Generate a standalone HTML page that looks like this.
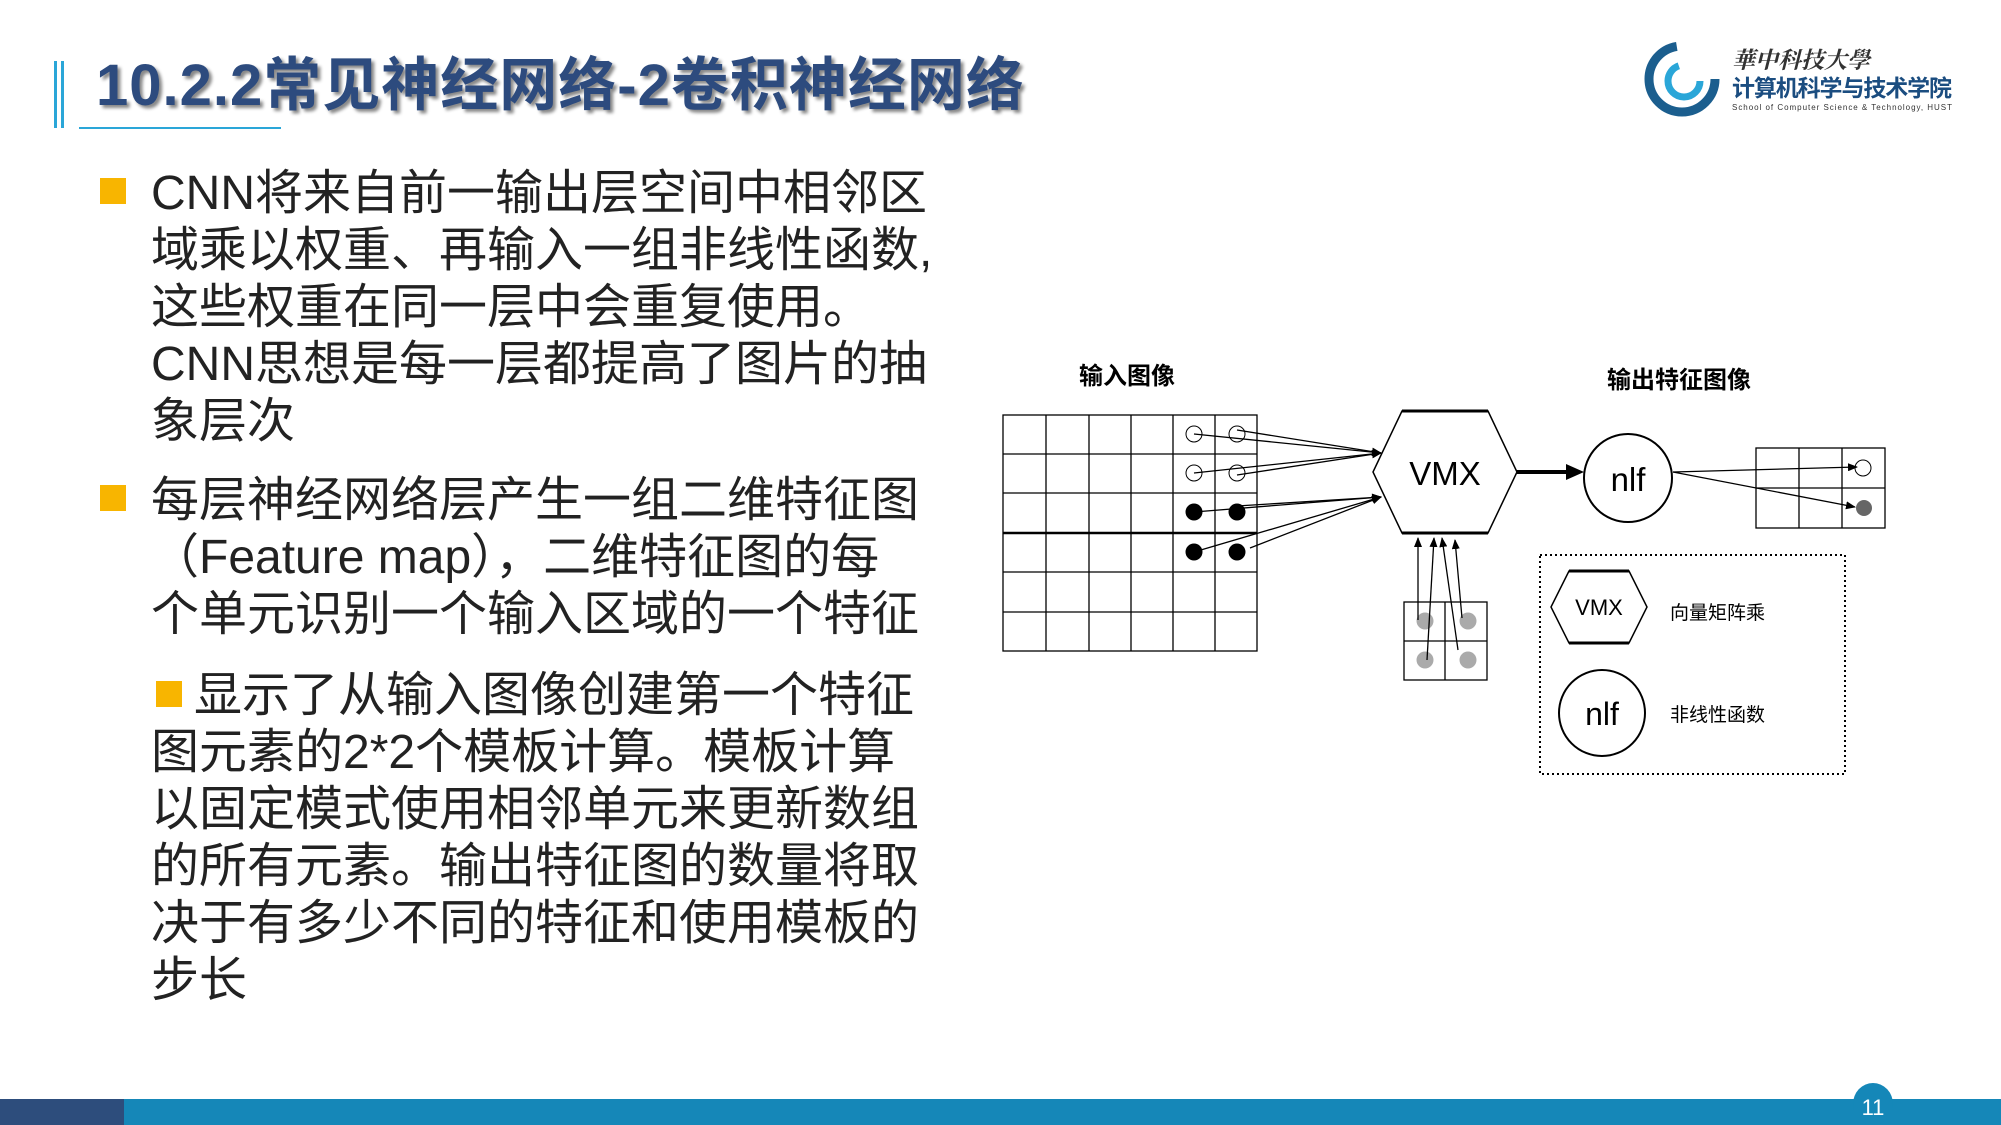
<!DOCTYPE html>
<html><head><meta charset="utf-8">
<style>
body{margin:0;width:2001px;height:1125px;position:relative;overflow:hidden;background:#fff;font-family:"Liberation Sans","Noto Sans CJK SC",sans-serif;}
.t{position:absolute;white-space:nowrap;}
.title{left:96px;top:51px;font-size:58px;font-weight:bold;color:#2d4b7e;text-shadow:3px 3px 3px #888;letter-spacing:1px;line-height:70px;}
.body{left:151px;font-size:48px;color:#222;line-height:57px;}
.sq{position:absolute;width:26px;height:26px;background:#f8b500;}
</style></head><body>
<div style="position:absolute;left:54px;top:61px;width:3px;height:67px;background:#2aa6d8"></div>
<div style="position:absolute;left:61px;top:61px;width:3px;height:67px;background:#2aa6d8"></div>
<div style="position:absolute;left:79px;top:127px;width:202px;height:2px;background:#2aa6d8"></div>
<div class="t title">10.2.2常见神经网络-2卷积神经网络</div>

<svg style="position:absolute;left:1640px;top:40px" width="330" height="85">
<circle cx="42" cy="39" r="33" fill="none" stroke="#1b5e8e" stroke-width="9" stroke-dasharray="150 60"/>
<circle cx="44" cy="41" r="16" fill="none" stroke="#2aa6d8" stroke-width="7" stroke-dasharray="70 40"/>
<text x="92" y="28" font-size="23" font-style="italic" font-weight="bold" fill="#333" font-family="'Noto Serif CJK SC',serif">華中科技大學</text>
<text x="92" y="56" font-size="23" font-weight="bold" fill="#1b4d80" font-family="'Noto Sans CJK SC',sans-serif" textLength="220">计算机科学与技术学院</text>
<text x="92" y="70" font-size="8" fill="#333" textLength="220">School of Computer Science &amp; Technology, HUST</text>
</svg>

<div class="sq" style="left:100px;top:178px"></div>
<div class="t body" style="top:165px">CNN将来自前一输出层空间中相邻区<br>域乘以权重、再输入一组非线性函数,<br>这些权重在同一层中会重复使用。<br>CNN思想是每一层都提高了图片的抽<br>象层次</div>
<div class="sq" style="left:100px;top:485px"></div>
<div class="t body" style="top:472px">每层神经网络层产生一组二维特征图<br>（Feature map），二维特征图的每<br>个单元识别一个输入区域的一个特征</div>
<div class="sq" style="left:156px;top:681px"></div>
<div class="t body" style="top:667px"><span style="padding-left:43px">显示了从输入图像创建第一个特征</span><br>图元素的2*2个模板计算。模板计算<br>以固定模式使用相邻单元来更新数组<br>的所有元素。输出特征图的数量将取<br>决于有多少不同的特征和使用模板的<br>步长</div>

<svg style="position:absolute;left:0;top:0" width="2001" height="1125">
<defs><marker id="a" markerWidth="10" markerHeight="8" refX="9" refY="4" orient="auto" markerUnits="userSpaceOnUse"><path d="M0,0L10,4L0,8z" fill="#000"/></marker></defs>
<g font-family="'Noto Sans CJK SC',sans-serif" font-weight="bold" font-size="24" text-anchor="middle">
<text x="1127" y="384">输入图像</text><text x="1679" y="388">输出特征图像</text></g>
<g stroke="#000" stroke-width="1.3" fill="none">
<rect x="1003" y="415" width="254" height="236"/>
<path d="M1046 415V651M1089 415V651M1131 415V651M1173 415V651M1215 415V651M1003 454H1257M1003 493H1257M1003 572H1257M1003 612H1257"/>
<path d="M1003 533H1257" stroke-width="2.5"/>
<rect x="1756" y="448" width="129" height="80"/><path d="M1799 448V528M1842 448V528M1756 488H1885"/>
<rect x="1404" y="602" width="83" height="78"/><path d="M1445 602V680M1404 641H1487"/>
</g>
<g stroke="#000" stroke-width="1" fill="#fff">
<circle cx="1194" cy="434" r="8"/><circle cx="1237" cy="434" r="8"/><circle cx="1194" cy="473" r="8"/><circle cx="1237" cy="473" r="8"/>
<circle cx="1863" cy="468" r="8"/>
</g>
<g fill="#000"><circle cx="1194" cy="512" r="8.5"/><circle cx="1237" cy="512" r="8.5"/><circle cx="1194" cy="552" r="8.5"/><circle cx="1237" cy="552" r="8.5"/></g>
<circle cx="1864" cy="508" r="8" fill="#666"/>
<g fill="#aaa"><circle cx="1425" cy="621" r="8.5"/><circle cx="1468" cy="621" r="8.5"/><circle cx="1425" cy="660" r="8.5"/><circle cx="1468" cy="660" r="8.5"/></g>
<g stroke="#000" stroke-width="1.3" marker-end="url(#a)">
<line x1="1194" y1="434" x2="1381" y2="453"/><line x1="1237" y1="430" x2="1381" y2="453"/>
<line x1="1194" y1="473" x2="1381" y2="453"/><line x1="1237" y1="475" x2="1381" y2="453"/>
<line x1="1194" y1="512" x2="1381" y2="497"/><line x1="1237" y1="506" x2="1381" y2="497"/>
<line x1="1194" y1="552" x2="1381" y2="497"/><line x1="1250" y1="548" x2="1381" y2="497"/>
<line x1="1418" y1="620" x2="1418" y2="538"/><line x1="1427" y1="660" x2="1434" y2="538"/>
<line x1="1458" y1="650" x2="1442" y2="538"/><line x1="1462" y1="618" x2="1455" y2="540"/>
<line x1="1673" y1="472" x2="1857" y2="467"/><line x1="1673" y1="472" x2="1855" y2="507"/>
</g>
<line x1="1517" y1="472" x2="1570" y2="472" stroke="#000" stroke-width="4"/>
<path d="M1566 464L1584 472L1566 480z" fill="#000"/>
<path d="M1402 411H1488L1517 472L1488 533H1402L1373 472z" fill="#fff" stroke="#000" stroke-width="1.5"/>
<path d="M1402 411H1488M1402 533H1488" stroke="#000" stroke-width="3"/>
<circle cx="1628" cy="478" r="44" fill="#fff" stroke="#000" stroke-width="2"/>
<rect x="1540" y="555" width="305" height="219" fill="none" stroke="#000" stroke-width="2" stroke-dasharray="2 3"/>
<path d="M1569 571H1629L1647 607L1629 643H1569L1551 607z" fill="#fff" stroke="#000" stroke-width="1.5"/>
<path d="M1569 571H1629M1569 643H1629" stroke="#000" stroke-width="3"/>
<circle cx="1602" cy="713" r="43" fill="#fff" stroke="#000" stroke-width="2"/>
<g font-family="'Liberation Sans',sans-serif" text-anchor="middle">
<text x="1445" y="485" font-size="33">VMX</text><text x="1628" y="491" font-size="33">nlf</text>
<text x="1599" y="615" font-size="22">VMX</text><text x="1602" y="725" font-size="32">nlf</text></g>
<g font-family="'Noto Sans CJK SC',sans-serif" font-size="19">
<text x="1670" y="619">向量矩阵乘</text><text x="1670" y="721">非线性函数</text></g>
<rect x="0" y="1099" width="2001" height="26" fill="#1587b8"/>
<rect x="0" y="1099" width="124" height="26" fill="#2d4d7c"/>
<ellipse cx="1873" cy="1104" rx="20" ry="21" fill="#1587b8"/>
<text x="1873" y="1115" font-size="22" fill="#fff" text-anchor="middle" font-family="'Liberation Sans',sans-serif">11</text>
</svg>
</body></html>
